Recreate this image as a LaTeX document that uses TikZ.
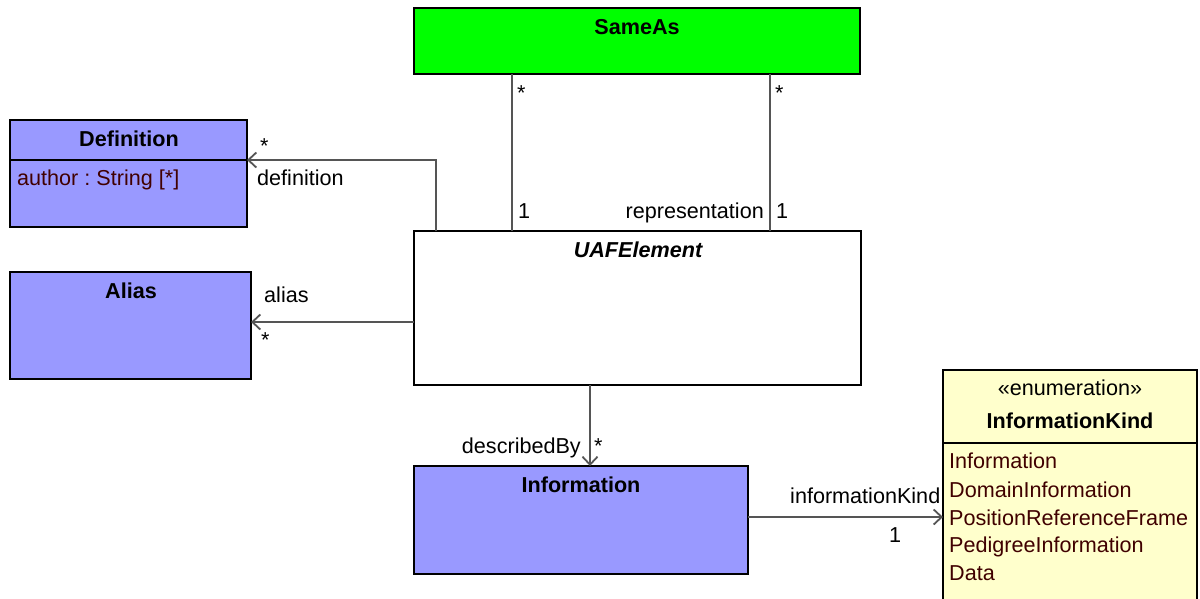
\documentclass[tikz,border=0pt]{standalone}
\usepackage{fontspec}
\setmainfont{Liberation Sans}
\frenchspacing
\usetikzlibrary{arrows.meta,calc}
\definecolor{clsfill}{RGB}{153,153,255}
\definecolor{enumfill}{RGB}{255,255,204}
\definecolor{samefill}{RGB}{0,255,0}
\definecolor{attrc}{RGB}{64,0,0}
\definecolor{lnc}{RGB}{85,85,85}
\begin{document}
\begin{tikzpicture}[x=1pt,y=-1pt,
  font=\fontsize{21.6}{26}\selectfont,
  box/.style={draw=black,line width=1.8pt,anchor=north west,inner sep=0pt,outer sep=0pt},
  ttl/.style={font=\fontsize{21.6}{26}\selectfont\bfseries,inner sep=0pt,anchor=base},
  lbl/.style={inner sep=0pt},
  attr/.style={inner sep=0pt,anchor=base west,text=attrc},
  conn/.style={draw=lnc,line width=1.8pt},
  arr/.style={conn,-{Straight Barb[length=8pt,width=15pt,line width=1.8pt]}}]
\useasboundingbox (0,0) rectangle (1200,598);

% boxes
\node[box,fill=samefill,minimum width=446pt,minimum height=66pt] (same) at (414,8) {};
\node[box,fill=clsfill,minimum width=237pt,minimum height=107pt] (def) at (10,120) {};
\node[box,fill=clsfill,minimum width=241pt,minimum height=107pt] (alias) at (10,272) {};
\node[box,fill=white,minimum width=447pt,minimum height=154pt] (uaf) at (414,231) {};
\node[box,fill=clsfill,minimum width=334pt,minimum height=108pt] (info) at (414,466) {};
\node[box,fill=enumfill,minimum width=254pt,minimum height=260pt] (enum) at (943,370) {};

% dividers
\draw[line width=1.8pt] ($(def.north west)+(0,40)$) -- ($(def.north east)+(0,40)$);
\draw[line width=1.8pt] ($(enum.north west)+(0,73)$) -- ($(enum.north east)+(0,73)$);

% titles
\node[ttl] (sameT) at (637,34) {SameAs};
\node[ttl] (defT) at (129,146) {Definition};
\node[ttl] (aliasT) at (131,298) {Alias};
\node[ttl,font=\fontsize{21.6}{26}\selectfont\bfseries\itshape] (uafT) at (638,257) {UAFElement};
\node[ttl] (infoT) at (581,492) {Information};
\node[lbl,anchor=base] (enumS) at (1070,395) {«enumeration»};
\node[ttl] (enumT) at (1070,428) {InformationKind};

% attributes / literals
\node[attr] (a1) at (17,185) {author : String [*]};
\node[attr] (e1) at (949,468) {Information};
\node[attr] (e2) at (949,497) {DomainInformation};
\node[attr] (e3) at (949,525) {PositionReferenceFrame};
\node[attr] (e4) at (949,552) {PedigreeInformation};
\node[attr] (e5) at (949,580) {Data};

% connectors
\coordinate (defc) at ($(def.north east)+(0,40)$);
\draw[arr] ($(uaf.north west)+(22,0)$) |- (defc);
\draw[arr] ($(uaf.north west)+(0,91)$) -- ($(alias.north east)+(0,50)$);
\draw[conn] ($(same.south west)+(98,0)$) -- ($(uaf.north west)+(98,0)$);
\draw[conn] ($(same.south west)+(356,0)$) -- ($(uaf.north west)+(356,0)$);
\draw[arr] ($(uaf.south west)+(176,0)$) -- ($(info.north west)+(176,0)$);
\draw[arr] ($(info.north east)+(0,51)$) -- ($(enum.north west)+(0,147)$);

% connector labels
\node[lbl,anchor=base west] (l1) at (260,153) {*};
\node[lbl,anchor=base west] (l2) at (257,185) {definition};
\node[lbl,anchor=base west] (l3) at (264,302) {alias};
\node[lbl,anchor=base west] (l4) at (261,347) {*};
\node[lbl,anchor=base west] (l5) at (517,100) {*};
\node[lbl,anchor=base west] (l6) at (775,100) {*};
\node[lbl,anchor=base west] (l7) at (518,218) {1};
\node[lbl,anchor=base east] (l8) at (764,218) {representation};
\node[lbl,anchor=base west] (l9) at (776,218) {1};
\node[lbl,anchor=base east] (l10) at (581,453) {describedBy};
\node[lbl,anchor=base west] (l11) at (594,453) {*};
\node[lbl,anchor=base west] (l12) at (790,503) {informationKind};
\node[lbl,anchor=base] (l13) at (895,542) {1};
\end{tikzpicture}
\end{document}
